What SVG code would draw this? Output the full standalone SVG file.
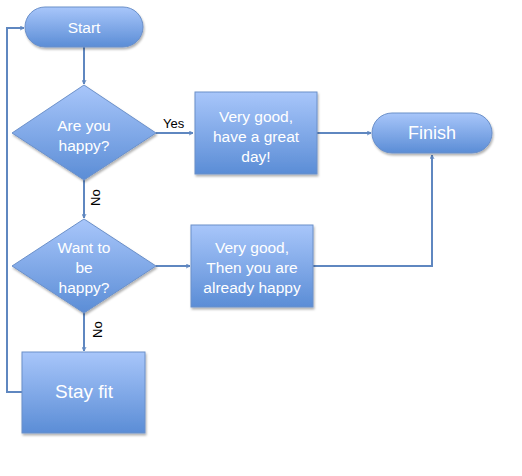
<svg xmlns="http://www.w3.org/2000/svg" width="522" height="476" viewBox="0 0 522 476">
<defs>
<linearGradient id="g" x1="0" y1="0" x2="0" y2="1">
<stop offset="0" stop-color="#a8c6fa"/>
<stop offset="1" stop-color="#5b8dd6"/>
</linearGradient>
<filter id="sh" x="-10%" y="-10%" width="130%" height="130%">
<feDropShadow dx="1" dy="2" stdDeviation="1.2" flood-color="#000" flood-opacity="0.3"/>
</filter>
<marker id="ar" viewBox="0 0 10 10" refX="9" refY="5" markerWidth="5" markerHeight="5" orient="auto" markerUnits="userSpaceOnUse">
<path d="M1,1 L9,5 L1,9" fill="none" stroke="#5f87c0" stroke-width="1.8"/>
</marker>
</defs>
<style>
.n{fill:url(#g);stroke:#6b90c9;stroke-width:1;filter:url(#sh)}
.t{fill:#fff;font-family:"Liberation Sans",Arial,sans-serif;font-size:15.5px;text-anchor:middle}
.c{fill:none;stroke:#5f87c0;stroke-width:2}
.l{fill:#000;font-family:"Liberation Sans",Arial,sans-serif;font-size:13px}
</style>
<rect width="522" height="476" fill="#fff"/>
<g id="connectors">
<path class="c" d="M84,47 V84" marker-end="url(#ar)"/>
<path class="c" d="M156,133 H193" marker-end="url(#ar)"/>
<path class="c" d="M317,133 H371" marker-end="url(#ar)"/>
<path class="c" d="M84,180 V218" marker-end="url(#ar)"/>
<path class="c" d="M156,266 H190" marker-end="url(#ar)"/>
<path class="c" d="M313,266 H432 V155" marker-end="url(#ar)"/>
<path class="c" d="M84,313 V351" marker-end="url(#ar)"/>
<path class="c" d="M22,392 H7 V28 H24" marker-end="url(#ar)"/>
<text class="l" x="163" y="128">Yes</text>
<text class="l" transform="translate(100,206) rotate(-90)">No</text>
<text class="l" transform="translate(102,338) rotate(-90)">No</text>
</g>
<g id="start">
<rect class="n" x="25" y="7" width="118" height="40" rx="20"/>
<text class="t" x="84" y="33">Start</text>
</g>
<g id="q1">
<path class="n" d="M84,85 L156,133 L84,180 L12,133 Z"/>
<text class="t" x="84" y="131">Are you</text>
<text class="t" x="84" y="151">happy?</text>
</g>
<g id="b1">
<rect class="n" x="195" y="92" width="122" height="82"/>
<text class="t" x="256" y="122">Very good,</text>
<text class="t" x="256" y="142">have a great</text>
<text class="t" x="256" y="162">day!</text>
</g>
<g id="finish">
<rect class="n" x="372" y="113" width="120" height="40" rx="20"/>
<text class="t" x="432" y="139" style="font-size:18px">Finish</text>
</g>
<g id="q2">
<path class="n" d="M84,219 L156,266 L84,313 L12,266 Z"/>
<text class="t" x="84" y="253">Want to</text>
<text class="t" x="84" y="273">be</text>
<text class="t" x="84" y="293">happy?</text>
</g>
<g id="b2">
<rect class="n" x="191" y="225" width="122" height="82"/>
<text class="t" x="252" y="253">Very good,</text>
<text class="t" x="252" y="273">Then you are</text>
<text class="t" x="252" y="293">already happy</text>
</g>
<g id="stay">
<rect class="n" x="22" y="352" width="123" height="81"/>
<text class="t" x="84" y="398" style="font-size:19px">Stay fit</text>
</g>
</svg>
